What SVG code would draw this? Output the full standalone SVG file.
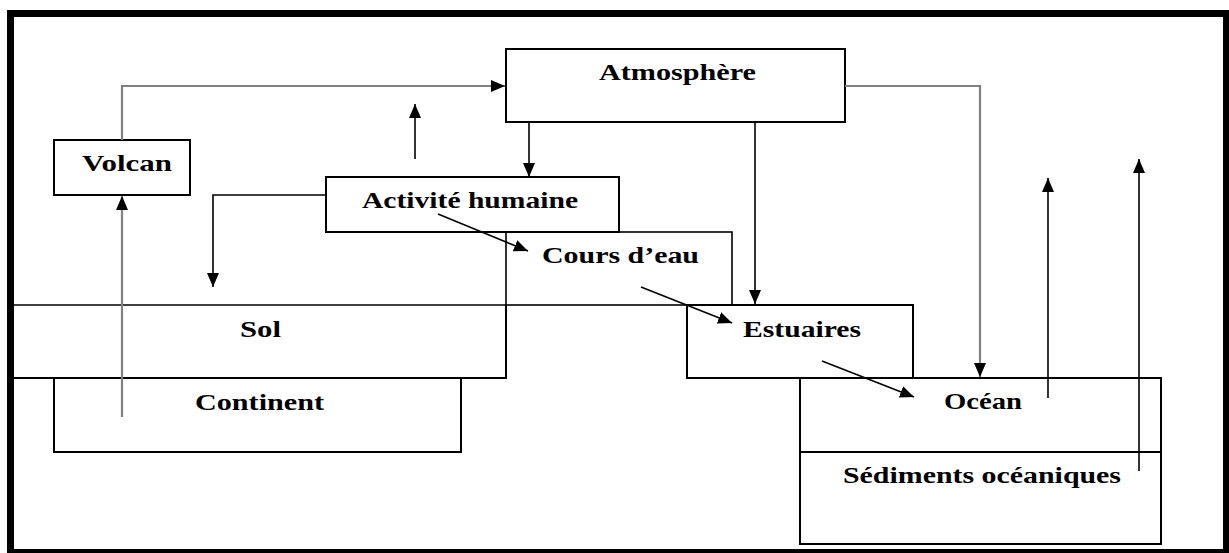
<svg xmlns="http://www.w3.org/2000/svg" width="1229" height="553" viewBox="0 0 1229 553">
<style>
.box{fill:#fff;stroke:#000;stroke-width:2}
.lbl{font-family:"Liberation Serif","Times New Roman",serif;font-weight:bold;font-size:24px;fill:#000}
.blk{fill:none;stroke:#000;stroke-width:1.6}
.gry{fill:none;stroke:#808080;stroke-width:2.2}
</style>
<defs>
<marker id="ah" markerUnits="userSpaceOnUse" markerWidth="16" markerHeight="14" refX="14" refY="6" orient="auto">
<path d="M0,0 L14,6 L0,12 Z" fill="#000"/>
</marker>
</defs>
<rect x="0" y="0" width="1229" height="553" fill="#fff"/>
<rect x="10.5" y="13.5" width="1216" height="539" fill="none" stroke="#000" stroke-width="7"/>

<g id="atmosphere">
<rect class="box" x="506" y="49" width="339" height="73"/>
<text class="lbl" x="599" y="80" textLength="157" lengthAdjust="spacingAndGlyphs">Atmosphère</text>
</g>
<g id="volcan">
<rect class="box" x="54" y="140" width="136" height="55"/>
<text class="lbl" x="82" y="171" textLength="90" lengthAdjust="spacingAndGlyphs">Volcan</text>
</g>
<g id="cours-eau">
<rect x="506" y="232" width="226" height="73" fill="#fff" stroke="#000" stroke-width="1.6"/>
<text class="lbl" x="542" y="263" textLength="157" lengthAdjust="spacingAndGlyphs">Cours d’eau</text>
</g>
<g id="activite-humaine">
<rect class="box" x="326" y="177" width="293" height="55"/>
<text class="lbl" x="362" y="208" textLength="216" lengthAdjust="spacingAndGlyphs">Activité humaine</text>
</g>
<g id="sol">
<rect x="14" y="305" width="492" height="73" fill="#fff" stroke="none"/>
<line x1="14" y1="305" x2="506" y2="305" stroke="#000" stroke-width="1.3"/>
<path d="M506,305 V378 H14" fill="none" stroke="#000" stroke-width="2"/>
<text class="lbl" x="240" y="337" textLength="41" lengthAdjust="spacingAndGlyphs">Sol</text>
</g>
<g id="continent">
<rect class="box" x="54" y="378" width="407" height="74"/>
<text class="lbl" x="195" y="410" textLength="129" lengthAdjust="spacingAndGlyphs">Continent</text>
</g>
<g id="estuaires">
<rect class="box" x="687" y="305" width="226" height="73"/>
<text class="lbl" x="743" y="337" textLength="118" lengthAdjust="spacingAndGlyphs">Estuaires</text>
</g>
<g id="ocean">
<rect class="box" x="800" y="378" width="361" height="74"/>
<text class="lbl" x="944" y="409" textLength="78" lengthAdjust="spacingAndGlyphs">Océan</text>
</g>
<g id="sediments">
<rect class="box" x="800" y="452" width="361" height="92"/>
<text class="lbl" x="843" y="483" textLength="278" lengthAdjust="spacingAndGlyphs">Sédiments océaniques</text>
</g>

<g id="connectors">
<path class="gry" d="M122,140 V86 H505" marker-end="url(#ah)"/>
<path class="gry" d="M845,86 H980 V377" marker-end="url(#ah)"/>
<path class="gry" d="M122,417 V196" marker-end="url(#ah)"/>
<path class="blk" d="M529,122 V177" marker-end="url(#ah)"/>
<path class="blk" d="M755,122 V304" marker-end="url(#ah)"/>
<path class="blk" d="M415,159 V104" marker-end="url(#ah)"/>
<path class="blk" d="M326,195 H213 V287" marker-end="url(#ah)"/>
<path class="blk" d="M438,214 L528,251" marker-end="url(#ah)"/>
<path class="blk" d="M641,287 L732,323" marker-end="url(#ah)"/>
<path class="blk" d="M822,361 L914,397" marker-end="url(#ah)"/>
<path class="blk" d="M1048,398 V178" marker-end="url(#ah)"/>
<path class="blk" d="M1139,471 V159" marker-end="url(#ah)"/>
</g>
</svg>
